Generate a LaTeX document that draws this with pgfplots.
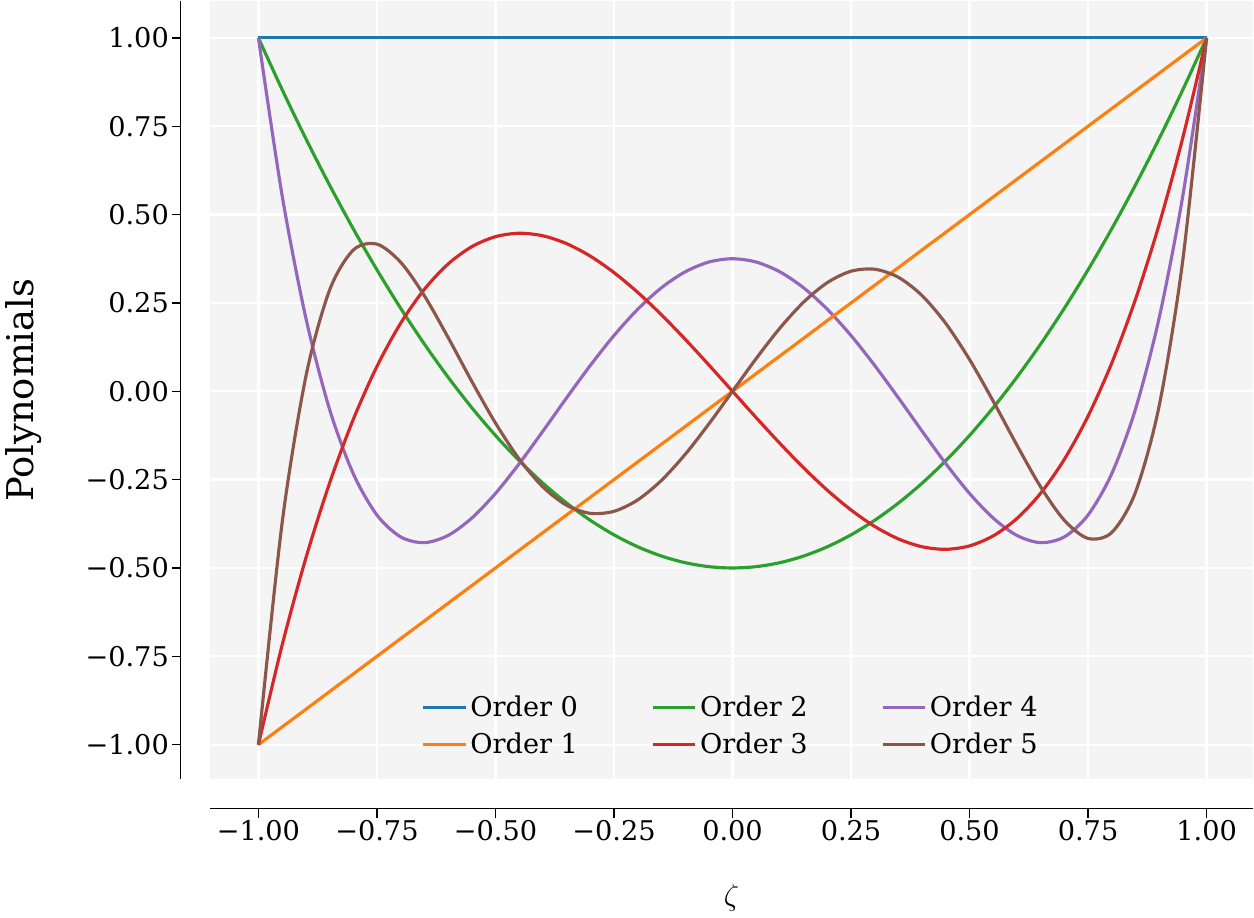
\documentclass[border=0pt]{standalone}
\usepackage{pgfplots}
\usepackage{pgfplotstable}
\pgfplotsset{compat=1.18}
\usepackage{fontspec}
\setmainfont{DejaVu Serif}
\definecolor{c0}{HTML}{1F77B4}
\definecolor{c1}{HTML}{FF7F0E}
\definecolor{c2}{HTML}{2CA02C}
\definecolor{c3}{HTML}{D62728}
\definecolor{c4}{HTML}{9467BD}
\definecolor{c5}{HTML}{8C564B}
\definecolor{bg}{HTML}{F4F4F4}
\pgfplotstableread{
x p0 p1 p2 p3 p4 p5
-1.00 1 -1.00 1.0 -1.0 1.0 -1.0
-0.95 1 -0.95 0.85375 -0.7184 0.5541 -0.3727
-0.90 1 -0.90 0.715 -0.4725 0.2079 0.0411
-0.85 1 -0.85 0.58375 -0.2603 -0.0506 0.2857
-0.80 1 -0.80 0.46 -0.08 -0.233 0.3995
-0.75 1 -0.75 0.34375 0.0703 -0.3501 0.4164
-0.70 1 -0.70 0.235 0.1925 -0.4121 0.3652
-0.65 1 -0.65 0.13375 0.2884 -0.4284 0.2705
-0.60 1 -0.60 0.04 0.36 -0.408 0.1526
-0.55 1 -0.55 -0.04625 0.4091 -0.3590 0.0282
-0.50 1 -0.50 -0.125 0.4375 -0.2891 -0.0898
-0.45 1 -0.45 -0.19625 0.4472 -0.2050 -0.1917
-0.40 1 -0.40 -0.26 0.44 -0.113 -0.2706
-0.35 1 -0.35 -0.31625 0.4178 -0.0187 -0.3225
-0.30 1 -0.30 -0.365 0.3825 0.0729 -0.3454
-0.25 1 -0.25 -0.40625 0.3359 0.1577 -0.3397
-0.20 1 -0.20 -0.44 0.28 0.232 -0.3075
-0.15 1 -0.15 -0.46625 0.2166 0.2928 -0.2523
-0.10 1 -0.10 -0.485 0.1475 0.3379 -0.1788
-0.05 1 -0.05 -0.49625 0.0747 0.3657 -0.0927
0.00 1 0.00 -0.5 0.0 0.375 0.0
0.05 1 0.05 -0.49625 -0.0747 0.3657 0.0927
0.10 1 0.10 -0.485 -0.1475 0.3379 0.1788
0.15 1 0.15 -0.46625 -0.2166 0.2928 0.2523
0.20 1 0.20 -0.44 -0.28 0.232 0.3075
0.25 1 0.25 -0.40625 -0.3359 0.1577 0.3397
0.30 1 0.30 -0.365 -0.3825 0.0729 0.3454
0.35 1 0.35 -0.31625 -0.4178 -0.0187 0.3225
0.40 1 0.40 -0.26 -0.44 -0.113 0.2706
0.45 1 0.45 -0.19625 -0.4472 -0.2050 0.1917
0.50 1 0.50 -0.125 -0.4375 -0.2891 0.0898
0.55 1 0.55 -0.04625 -0.4091 -0.3590 -0.0282
0.60 1 0.60 0.04 -0.36 -0.408 -0.1526
0.65 1 0.65 0.13375 -0.2884 -0.4284 -0.2705
0.70 1 0.70 0.235 -0.1925 -0.4121 -0.3652
0.75 1 0.75 0.34375 -0.0703 -0.3501 -0.4164
0.80 1 0.80 0.46 0.08 -0.233 -0.3995
0.85 1 0.85 0.58375 0.2603 -0.0506 -0.2857
0.90 1 0.90 0.715 0.4725 0.2079 -0.0411
0.95 1 0.95 0.85375 0.7184 0.5541 0.3727
1.00 1 1.00 1.0 1.0 1.0 1.0
}\data
\begin{document}
\begin{tikzpicture}
\begin{axis}[
  scale only axis, width=595pt, height=444pt,
  xmin=-1.102, xmax=1.0976, ymin=-1.098, ymax=1.104,
  axis line style={draw=none},
  axis background/.style={fill=bg},
  grid=major, major grid style={white, line width=1.3pt},
  major tick length=0pt, clip=false,
  xtick={-1,-0.75,...,1}, ytick={-1,-0.75,...,1},
  xticklabels={−1.00,−0.75,−0.50,−0.25,0.00,0.25,0.50,0.75,1.00},
  yticklabels={−1.00,−0.75,−0.50,−0.25,0.00,0.25,0.50,0.75,1.00},
  ticklabel style={font=\fontsize{15.5}{18}\selectfont},
  xticklabel style={yshift=-20pt}, yticklabel style={xshift=-20pt},
  xlabel={$\zeta$}, ylabel={Polynomials},
  xlabel style={font=\fontsize{19}{22}\selectfont, yshift=-18pt},
  ylabel style={font=\fontsize{21}{24}\selectfont, yshift=18pt},
  legend style={at={(0.5,0.02)}, anchor=south, draw=none, fill=none,
    font=\fontsize{15.5}{18}\selectfont, legend columns=3,
    /tikz/every even column/.append style={column sep=40pt}, row sep=4pt},
  legend image post style={xscale=1.4},
  every axis plot/.append style={line width=1.8pt, smooth},
]
\addplot[c0] table[x=x,y=p0]{\data}; \addlegendentry{Order 0}
\addplot[c2] table[x=x,y=p2]{\data}; \addlegendentry{Order 2}
\addplot[c4] table[x=x,y=p4]{\data}; \addlegendentry{Order 4}
\addplot[c1] table[x=x,y=p1]{\data}; \addlegendentry{Order 1}
\addplot[c3] table[x=x,y=p3]{\data}; \addlegendentry{Order 3}
\addplot[c5] table[x=x,y=p5]{\data}; \addlegendentry{Order 5}
\draw[line width=0.8pt] ([xshift=-16.8pt]rel axis cs:0,0) -- ([xshift=-16.8pt]rel axis cs:0,1);
\draw[line width=0.8pt] ([yshift=-16.8pt]rel axis cs:0,0) -- ([yshift=-16.8pt]rel axis cs:1,0);
\pgfplotsinvokeforeach{-1,-0.75,-0.5,-0.25,0,0.25,0.5,0.75,1}{
  \draw[line width=0.8pt] ([xshift=-16.8pt]axis cs:-1.102,#1) -- ([xshift=-21.8pt]axis cs:-1.102,#1);
  \draw[line width=0.8pt] ([yshift=-16.8pt]axis cs:#1,-1.098) -- ([yshift=-21.8pt]axis cs:#1,-1.098);
}
\end{axis}
\end{tikzpicture}
\end{document}
